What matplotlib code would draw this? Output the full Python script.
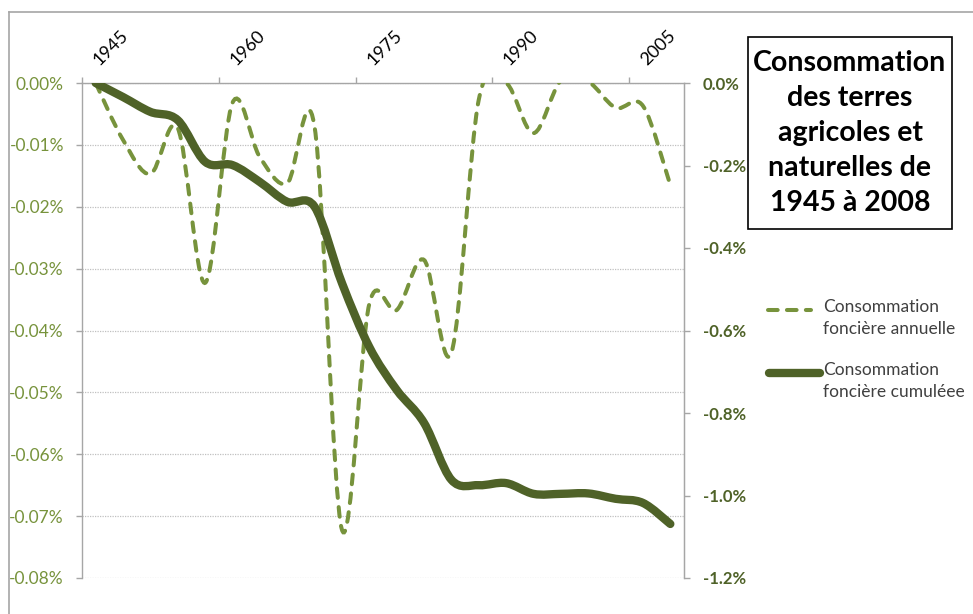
import matplotlib
matplotlib.use("Agg")
import matplotlib.pyplot as plt
from matplotlib.path import Path
from matplotlib.patches import PathPatch, Rectangle
from matplotlib.lines import Line2D
from matplotlib.ticker import FixedLocator, FuncFormatter
from matplotlib.transforms import ScaledTranslation

plt.rcParams['font.family'] = ['Lato', 'DejaVu Sans']

# Survey years (every 3 years)
years = [1945, 1948, 1951, 1954, 1957, 1960, 1963, 1966, 1969, 1972, 1975,
         1978, 1981, 1984, 1987, 1990, 1993, 1996, 1999, 2002, 2005, 2008]

# Annual land consumption (% of agricultural and natural land per year)
annual = [0.0, -0.0092, -0.0147, -0.0073, -0.0323, -0.0032, -0.0120, -0.0162,
          -0.0071, -0.0722, -0.0357, -0.0367, -0.0286, -0.0436, -0.0027, 0.0,
          -0.0081, 0.0004, 0.0002, -0.0040, -0.0037, -0.0165]

# Cumulated land consumption (%)
cumulated = [0.0, -0.034, -0.070, -0.090, -0.191, -0.199, -0.240, -0.288,
             -0.300, -0.485, -0.640, -0.744, -0.824, -0.962, -0.975, -0.970,
             -0.996, -0.996, -0.995, -1.008, -1.018, -1.069]

year_labels = ['1945', '1960', '1975', '1990', '2005']
left_ticks = [0.0, -0.01, -0.02, -0.03, -0.04, -0.05, -0.06, -0.07, -0.08]
right_ticks = [0.0, -0.2, -0.4, -0.6, -0.8, -1.0, -1.2]

title_lines = ["Consommation", "des terres", "agricoles et",
               "naturelles de", "1945 à 2008"]
legend_labels = ["Consommation\nfoncière annuelle",
                 "Consommation\nfoncière cumuléee"]

C_LIGHT = '#77933C'
C_DARK = '#4F6228'
C_AXIS = '#A6A6A6'
C_GRID = '#C0C0C0'
DASH = (0, (2.4, 2.3))
LW_DASH = 2.9


def smooth_path(xs, ys):
    """Cubic Bezier path through the points (spreadsheet-style smoothing)."""
    n = len(xs)
    pts = list(zip(xs, ys))
    verts = [pts[0]]
    codes = [Path.MOVETO]
    for i in range(n - 1):
        p0 = pts[i - 1] if i > 0 else pts[i]
        p1 = pts[i]
        p2 = pts[i + 1]
        p3 = pts[i + 2] if i + 2 < n else pts[i + 1]
        c1 = (p1[0] + (p2[0] - p0[0]) / 6, p1[1] + (p2[1] - p0[1]) / 6)
        c2 = (p2[0] - (p3[0] - p1[0]) / 6, p2[1] - (p3[1] - p1[1]) / 6)
        verts += [c1, c2, p2]
        codes += [Path.CURVE4] * 3
    return Path(verts, codes)


W, H = 973, 614
fig = plt.figure(figsize=(W / 100, H / 100), dpi=100)

# outer chart frame (top and left edges visible)
fig.add_artist(Line2D([9 / W, 9 / W], [0, 1 - 12 / H], color=C_AXIS, lw=1.2,
                      transform=fig.transFigure))
fig.add_artist(Line2D([9 / W, 1], [1 - 12 / H, 1 - 12 / H], color=C_AXIS, lw=1.2,
                      transform=fig.transFigure))

left, right, top, bottom = 82, 684, 83, 578
ax = fig.add_axes([left / W, 1 - bottom / H, (right - left) / W, (bottom - top) / H])
ax.set_xlim(years[0] - 1.5, years[-1] + 1.5)
ax.set_ylim(-0.08, 0.0)

# annual series (left axis)
p_annual = PathPatch(smooth_path(years, annual), facecolor='none', edgecolor=C_LIGHT,
                     lw=LW_DASH, linestyle=DASH, capstyle='round', zorder=3)
ax.add_patch(p_annual)

# grid / spines
ax.spines['bottom'].set_visible(False)
for s in ['left', 'top', 'right']:
    ax.spines[s].set_color(C_AXIS)
    ax.spines[s].set_linewidth(1.0)
ax.yaxis.set_major_locator(FixedLocator(left_ticks))
ax.yaxis.set_major_formatter(FuncFormatter(lambda v, p: f"{v:.2f}%".replace('-0.00', '0.00')))
ax.tick_params(axis='y', colors=C_AXIS, labelcolor=C_LIGHT, length=4.5, width=1,
               pad=8.5, labelsize=12.5)
ax.grid(axis='y', color=C_GRID, linestyle=(0, (1, 1)), lw=0.9)
ax.set_axisbelow(True)

# top category axis
ax.xaxis.tick_top()
ax.xaxis.set_major_locator(FixedLocator([int(l) for l in year_labels]))
ax.xaxis.set_major_formatter(FuncFormatter(lambda v, p: f"{int(round(v))}"))
ax.xaxis.set_minor_locator(FixedLocator([years[0] - 1.5 + 15 * k for k in range(5)]))
ax.tick_params(axis='x', which='major', length=0, pad=10.5, labelsize=13,
               labelcolor='black')
ax.tick_params(axis='x', which='minor', length=4.5, width=1, color=C_AXIS, direction='out')
shift = ScaledTranslation(6 / 100, 0, fig.dpi_scale_trans)
for lab in ax.get_xticklabels():
    lab.set_rotation(45)
    lab.set_rotation_mode('anchor')
    lab.set_ha('left')
    lab.set_va('bottom')
    lab.set_transform(lab.get_transform() + shift)

# cumulated series (right axis)
ax2 = ax.twinx()
ax2.set_ylim(-1.2, 0.0)
p_cum = PathPatch(smooth_path(years, cumulated), facecolor='none', edgecolor=C_DARK,
                  lw=6.0, capstyle='round', joinstyle='round', zorder=4)
ax2.add_patch(p_cum)
for s in ['bottom', 'top', 'left']:
    ax2.spines[s].set_visible(False)
ax2.spines['right'].set_color(C_AXIS)
ax2.yaxis.set_major_locator(FixedLocator(right_ticks))
ax2.yaxis.set_major_formatter(FuncFormatter(lambda v, p: f"{v:.1f}%".replace('-0.0%', '0.0%')))
ax2.tick_params(axis='y', colors=C_AXIS, labelcolor=C_DARK, length=4.5, width=1,
                pad=9, labelsize=12)
for lab in ax2.get_yticklabels():
    lab.set_fontweight('bold')

# title box
fig.add_artist(Rectangle((748 / W, 1 - 229 / H), (952 - 748) / W, (229 - 37) / H,
                         transform=fig.transFigure, facecolor='white',
                         edgecolor='black', lw=1.2))
for i, line in enumerate(title_lines):
    fig.text(850 / W, 1 - (63 + 35 * i) / H, line, ha='center', va='center',
             fontsize=20.5, fontweight='bold', color='black')

# legend
fig.add_artist(Line2D([768 / W, 811 / W], [1 - 310 / H] * 2, color=C_LIGHT, lw=LW_DASH,
                      linestyle=DASH, dash_capstyle='round', transform=fig.transFigure))
fig.add_artist(Line2D([769 / W, 820 / W], [1 - 373 / H] * 2, color=C_DARK, lw=6.0,
                      solid_capstyle='round', transform=fig.transFigure))
for lbl, yc in zip(legend_labels, [310, 373]):
    fig.text(823 / W, 1 - (yc - 11) / H, lbl, ha='left', va='top', fontsize=12.5,
             color='#404040', linespacing=1.45)

fig.savefig('out.png', dpi=100)
